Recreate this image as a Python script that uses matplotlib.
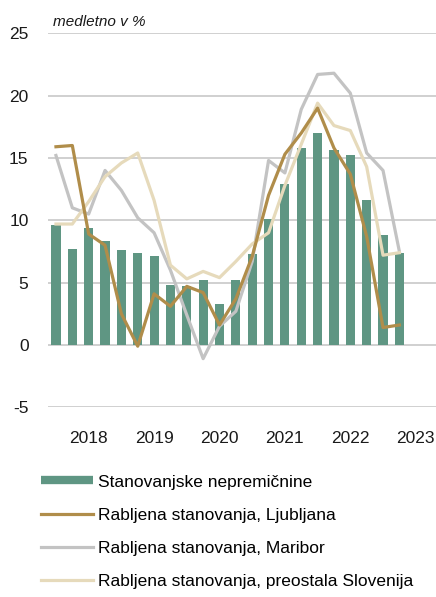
import matplotlib
matplotlib.use("Agg")
import matplotlib.pyplot as plt
from matplotlib.lines import Line2D

plt.rcParams['font.family'] = ['Liberation Sans', 'DejaVu Sans']

# quarterly, year-on-year growth in %
stanovanjske = [9.6, 7.7, 9.4, 8.3, 7.6, 7.4, 7.1, 4.8, 4.7, 5.2, 3.3,
                5.2, 7.3, 10.1, 12.9, 15.8, 17.0, 15.6, 15.2, 11.6, 8.8, 7.4]
ljubljana = [15.9, 16.0, 8.9, 8.0, 2.5, -0.1, 4.1, 3.1, 4.7, 4.2, 1.6,
             3.7, 7.1, 12.0, 15.3, 17.0, 19.0, 15.8, 13.7, 8.7, 1.4, 1.6]
maribor = [15.2, 11.0, 10.5, 14.0, 12.4, 10.2, 9.0, 6.0, 2.4, -1.1, 1.5,
           2.7, 6.7, 14.8, 13.8, 18.9, 21.7, 21.8, 20.2, 15.4, 14.0, 7.5]
slovenija = [9.7, 9.7, 11.5, 13.5, 14.6, 15.4, 11.6, 6.4, 5.3, 5.9, 5.4,
             6.7, 8.1, 9.0, 12.8, 16.1, 19.4, 17.6, 17.2, 14.3, 7.2, 7.4]
year_labels = ["2018", "2019", "2020", "2021", "2022", "2023"]
year_ticks = [2, 6, 10, 14, 18, 22]
labels = ["Stanovanjske nepremičnine",
          "Rabljena stanovanja, Ljubljana",
          "Rabljena stanovanja, Maribor",
          "Rabljena stanovanja, preostala Slovenija"]

GREEN = "#5f9683"
GOLD = "#b08d4a"
GREY = "#c3c3c3"
BEIGE = "#e6dabb"
GRID = "#c8c8c8"

x = list(range(len(stanovanjske)))

fig = plt.figure(figsize=(4.36, 5.97), dpi=100)
ax = fig.add_axes([0.110, 0.3178, 0.890, 0.6264])

ax.bar(x, stanovanjske, width=0.56, color=GREEN, zorder=2)
ax.plot(x, maribor, color=GREY, lw=2.3, zorder=3)
ax.plot(x, slovenija, color=BEIGE, lw=2.3, zorder=4)
ax.plot(x, ljubljana, color=GOLD, lw=2.3, zorder=5)

ax.set_xlim(-0.49, 23.24)
ax.set_ylim(-5, 25)
ax.set_yticks([-5, 0, 5, 10, 15, 20, 25])
ax.set_yticklabels(["-5", "0", "5", "10", "15", "20", "25"])
ax.set_xticks(year_ticks)
ax.set_xticklabels(year_labels)
ax.tick_params(axis="both", length=0, labelsize=12.5, colors="#1a1a1a")
ax.tick_params(axis="y", pad=14)
ax.tick_params(axis="x", pad=17)
ax.grid(axis="y", color=GRID, lw=1.2, zorder=0)
for s in ax.spines.values():
    s.set_visible(False)

fig.text(0.122, 0.963, "medletno v %", fontsize=11, style="italic",
         ha="left", va="center", color="#1a1a1a")

handles = [Line2D([], [], color=GREEN, lw=6, solid_capstyle="butt"),
           Line2D([], [], color=GOLD, lw=2.3),
           Line2D([], [], color=GREY, lw=2.3),
           Line2D([], [], color=BEIGE, lw=2.3)]
fig.legend(handles, labels, loc="upper left", bbox_to_anchor=(0.077, 0.217),
           frameon=False, fontsize=12.5, handlelength=3.0,
           handletextpad=0.3, labelspacing=1.04, borderaxespad=0)

fig.savefig("out.png", dpi=100)
